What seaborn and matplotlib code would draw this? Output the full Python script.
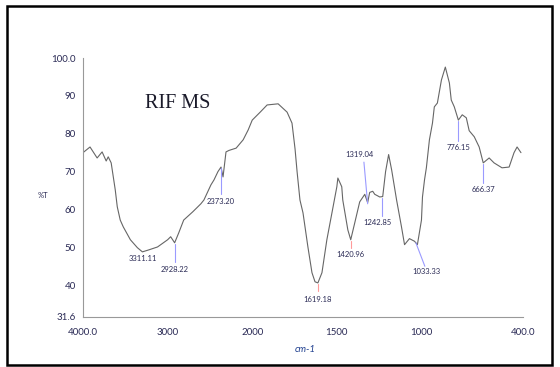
import numpy as np
import pandas as pd
import matplotlib
matplotlib.use("Agg")
import matplotlib.pyplot as plt
from matplotlib.patches import Rectangle
import seaborn as sns

# ---- data ----
wavenumber = [4000, 3917, 3833, 3774, 3726, 3702, 3667, 3619, 3595, 3560, 3524, 3440,
              3357, 3298, 3226, 3119, 3000, 2964, 2917, 2869, 2810, 2702, 2643, 2607,
              2571, 2488, 2452, 2405, 2369, 2345, 2310, 2274, 2190, 2107, 2048, 2000,
              1953, 1912, 1847, 1794, 1765, 1747, 1735, 1718, 1700, 1671, 1647, 1629,
              1612, 1588, 1559, 1529, 1500, 1494, 1471, 1465, 1435, 1418, 1394, 1365,
              1335, 1318, 1306, 1288, 1276, 1259, 1247, 1229, 1212, 1194, 1176, 1147,
              1118, 1100, 1071, 1041, 1024, 1000, 994, 982, 971, 953, 935, 924, 906,
              882, 859, 835, 824, 806, 782, 759, 735, 718, 688, 659, 635, 600, 571,
              524, 482, 453, 435, 412]
transmittance = [75.0, 76.5, 73.6, 75.2, 72.8, 73.9, 72.3, 65.2, 60.7, 57.2, 55.4, 52.0,
                 49.9, 48.8, 49.3, 50.1, 52.0, 52.8, 51.2, 53.8, 57.2, 59.4, 60.7, 61.5,
                 62.5, 66.5, 67.8, 70.0, 71.2, 68.6, 75.2, 75.6, 76.2, 78.4, 81.0, 83.6,
                 85.7, 87.6, 87.9, 85.7, 82.8, 76.0, 70.0, 62.5, 59.1, 50.1, 43.3, 40.9,
                 40.6, 43.3, 52.0, 59.1, 66.0, 68.3, 66.0, 62.5, 54.6, 52.0, 56.5, 62.0,
                 64.0, 61.8, 64.5, 64.8, 64.0, 63.6, 63.3, 63.4, 70.0, 74.5, 70.4, 62.5,
                 55.4, 50.7, 52.3, 51.6, 50.7, 57.2, 63.3, 67.8, 71.0, 78.4, 82.8, 87.1, 88.1,
                 94.2, 97.6, 93.4, 88.9, 87.1, 83.6, 85.0, 84.2, 80.8, 79.2, 76.5, 72.3, 73.6, 72.3,
                 71.0, 71.2, 75.0, 76.5, 75.0]

peak_labels = ["3311.11", "2928.22", "2373.20", "1619.18", "1420.96", "1319.04",
               "1242.85", "1033.33", "776.15", "666.37"]
peak_x = [3311, 2917, 2369, 1612, 1418, 1318, 1235, 1033, 782, 635]
peak_y = [48.8, 51.2, 71.2, 40.6, 52.0, 61.8, 63.4, 51.5, 83.6, 72.3]
label_x = [3290, 2917, 2369, 1612, 1418, 1365, 1260, 970, 782, 635]
label_y = [47.0, 44.1, 62.0, 36.3, 48.0, 74.4, 56.5, 43.5, 76.3, 65.2]
line_end_y = [None, 46.0, 64.0, 38.5, 49.8, 72.5, 58.2, 45.0, 78.0, 67.0]
line_end_x = [None, 2917, 2369, 1612, 1418, 1340, 1235, 980, 782, 635]
line_colors = [None, "#9a9aff", "#9a9aff", "#ff9a9a", "#ff9a9a", "#9a9aff",
               "#9a9aff", "#9a9aff", "#9a9aff", "#9a9aff"]

xticks = [4000, 3000, 2000, 1500, 1000, 500, 400]
xticklabels = ["4000.0", "3000", "2000", "1500", "1000", "", "400.0"]
yticks = [100, 90, 80, 70, 60, 50, 40, 31.6]
yticklabels = ["100.0", "90", "80", "70", "60", "50", "40", "31.6"]

df = pd.DataFrame({"wavenumber": wavenumber, "T": transmittance})

sns.set_theme(style="white")
plt.rcParams["font.family"] = ["Lato", "DejaVu Sans"]

fig = plt.figure(figsize=(5.6, 3.67), dpi=100)
ax = fig.add_axes([83 / 560, 1 - 317 / 367, (523 - 83) / 560, (317 - 58) / 367])


def fwd(w):
    w = np.asarray(w, dtype=float)
    return np.where(w > 2000, 2000 + (w - 2000) / 2.0, w)


def inv(u):
    u = np.asarray(u, dtype=float)
    return np.where(u > 2000, 2000 + (u - 2000) * 2.0, u)


ax.set_xscale("function", functions=(fwd, inv))

sns.lineplot(data=df, x="wavenumber", y="T", ax=ax, color="#666666",
             linewidth=0.8, sort=False, estimator=None)

ax.set_xlim(4000, 400)
ax.set_ylim(31.6, 100)

ax.set_xticks(xticks)
ax.set_xticklabels(xticklabels)
ax.set_yticks(yticks)
ax.set_yticklabels(yticklabels)
ax.tick_params(axis="both", labelsize=7, colors="#888888", labelcolor="#2a2a55",
               direction="inout", length=4, width=0.7, pad=3)
ax.tick_params(axis="x", pad=6)

for s in ["top", "right"]:
    ax.spines[s].set_visible(False)
for s in ["left", "bottom"]:
    ax.spines[s].set_color("#999999")
    ax.spines[s].set_linewidth(0.8)

ax.set_xlabel("")
ax.set_ylabel("")

# peak annotations
for lab, px, py, lx, ly, ex, ey, c in zip(peak_labels, peak_x, peak_y, label_x, label_y,
                                          line_end_x, line_end_y, line_colors):
    if c is not None:
        ax.plot([px, ex], [py - 0.3, ey], color=c, linewidth=0.8)
    ax.text(lx, ly, lab, ha="center", va="center", fontsize=5.5, color="#2a2a55")

ax.text(0.14, 0.826, "RIF MS", transform=ax.transAxes, fontsize=14.5,
        family="Liberation Serif", color="#1a1a2a", ha="left", va="center")

fig.text(43 / 560, 1 - 196 / 367, "%T", fontsize=5.5, color="#2a2a55",
         ha="center", va="center")
fig.text(305 / 560, 1 - 349 / 367, "cm-1", fontsize=7, color="#1f3f8f",
         style="italic", ha="center", va="center")

fig.patches.append(Rectangle((7 / 560, 1 - 365 / 367), (552 - 7) / 560, (365 - 6) / 367,
                             transform=fig.transFigure, fill=False,
                             edgecolor="black", linewidth=1.8))

fig.savefig("out.png", dpi=100)
